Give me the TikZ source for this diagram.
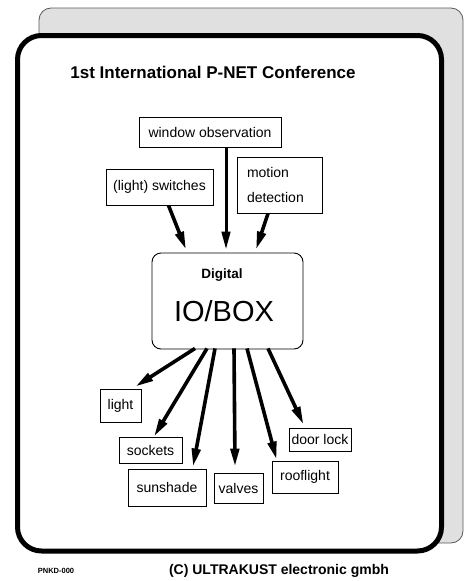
\documentclass[tikz,border=0pt]{standalone}
\usepackage{fontspec}
\setmainfont{Liberation Sans}
\usetikzlibrary{arrows.meta}
\begin{document}
\begin{tikzpicture}[x=1pt,y=-1pt,
  lbl/.style={draw=black,line width=0.9pt,inner sep=0pt,font=\fontsize{14}{16}\selectfont},
  arr/.style={line width=3.6pt,-{Triangle[length=18pt,width=8.5pt]}},
  ]
\useasboundingbox (0,0) rectangle (464,581);
% back panel and front frame
\draw[fill=black!12,draw=black!65,line width=0.8pt,rounded corners=12pt] (39,8) rectangle (463,543);
\draw[fill=white,line width=5pt,rounded corners=24pt] (17.5,35.5) rectangle (441.5,551);
% title
\node[font=\bfseries\fontsize{17}{20}\selectfont] (title) at (213,72) {1st International P-NET Conference};
% input boxes
\node[lbl,minimum width=142pt,minimum height=30pt] (win) at (210,132) {window observation};
\node[lbl,minimum width=107pt,minimum height=36pt] (sw) at (159.5,187) {(light) switches};
\node[lbl,text width=65pt,inner xsep=10pt,minimum height=56pt,align=left,font=\fontsize{14}{25}\selectfont] (md) at (279.5,185) {motion\\detection};
% central unit
\node[draw=black,line width=0.9pt,rounded corners=9pt,minimum width=151pt,minimum height=96pt] (io) at (227.5,301) {};
\node[font=\bfseries\fontsize{13.5}{16}\selectfont] (dig) at (222,275) {Digital};
\node[font=\fontsize{29}{32}\selectfont] (iob) at (224,311) {IO/BOX};
% output boxes
\node[lbl,minimum width=41pt,minimum height=33pt] (light) at (120.5,405.5) {light};
\node[lbl,minimum width=63pt,minimum height=26pt] (sock) at (150.5,450) {sockets};
\node[lbl,minimum width=78pt,minimum height=37pt] (sun) at (167,487.5) {sunshade};
\node[lbl,minimum width=49pt,minimum height=30pt] (valv) at (238.5,488) {valves};
\node[lbl,minimum width=66pt,minimum height=32pt] (roof) at (305,477) {rooflight};
\node[lbl,minimum width=62pt,minimum height=23pt] (door) at (320,439.5) {door lock};
% inputs
\draw[arr,line width=3pt] ([xshift=16pt]win.south) -- ([xshift=-1.5pt,yshift=3pt]io.north);
\draw[arr] ([xshift=9pt]sw.south) -- ([xshift=-41.5pt,yshift=3pt]io.north);
\draw[arr] ([xshift=-11.5pt]md.south) -- ([xshift=28.5pt,yshift=3pt]io.north);
% outputs
\draw[arr] ([xshift=-32.5pt,yshift=1pt]io.south) -- ([xshift=-6pt,yshift=2pt]light.north east);
\draw[arr] ([xshift=-20.5pt,yshift=1pt]io.south) -- ([xshift=3.5pt]sock.north);
\draw[arr] ([xshift=-12.5pt,yshift=1pt]io.south) -- ([xshift=26pt,yshift=2pt]sun.north);
\draw[arr] ([xshift=6.5pt,yshift=1pt]io.south) -- ([xshift=-3.5pt,yshift=6pt]valv.north);
\draw[arr] ([xshift=19.5pt,yshift=1pt]io.south) -- ([xshift=5pt,yshift=1pt]roof.north west);
\draw[arr] ([xshift=40.5pt,yshift=1pt]io.south) -- ([xshift=15pt,yshift=3pt]door.north west);
% footer
\node[font=\bfseries\fontsize{7.5}{9}\selectfont] (code) at (56,571) {PNKD-000};
\node[font=\bfseries\fontsize{14}{16}\selectfont] (copy) at (279,571) {(C) ULTRAKUST electronic gmbh};
\end{tikzpicture}
\end{document}
